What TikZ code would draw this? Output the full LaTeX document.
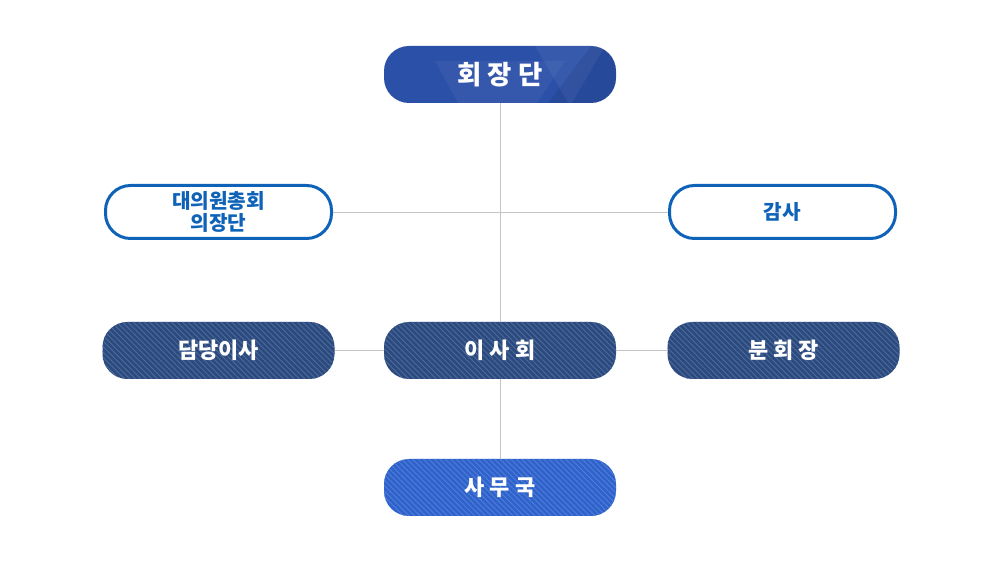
\documentclass[tikz,border=0pt]{standalone}
\usepackage{fontspec}
\setmainfont{Noto Sans CJK KR}
\usepackage{tikz}
\usetikzlibrary{patterns.meta}

\definecolor{topblue}{HTML}{2B50A8}
\definecolor{navy}{HTML}{2A4A80}
\definecolor{officeblue}{HTML}{2E62CC}
\definecolor{linegray}{HTML}{C4C4C4}
\definecolor{edgeblue}{HTML}{0E63B8}

\tikzset{
  pill/.style={rounded corners=0.5cm, minimum width=4.64cm, minimum height=1.14cm,
    inner sep=0pt, text=white, font=\bfseries\fontsize{12.5}{14}\selectfont},
  hatched/.style={pill, fill=#1,
    postaction={pattern={Lines[angle=-45, distance=2.2pt, line width=0.5pt]}, pattern color=white!18!#1}},
  outlined/.style={pill, draw=edgeblue, line width=0.06cm, fill=white, text=edgeblue,
    minimum width=4.52cm, minimum height=1.06cm, align=center,
    font=\bfseries\fontsize{11.5}{13}\selectfont},
  link/.style={draw=linegray, line width=0.5pt}
}

\begin{document}
\begin{tikzpicture}
  \useasboundingbox (0,0) rectangle (20,11.32);
  % top box with light triangles
  \node[pill, fill=topblue, font=\bfseries\fontsize{15}{17}\selectfont,
    path picture={
      \fill[sharp corners, white, opacity=0.05] (path picture bounding box.north) ++(-1.3,-0.3) -- ++(2.6,0) -- ++(-0.6,-0.9) -- ++(-1.5,0) -- cycle;
      \fill[sharp corners, white, opacity=0.06] (path picture bounding box.north) ++(0.7,0) -- ++(1.4,0) -- ++(-0.7,-1.2) -- cycle;
      \fill[sharp corners, black, opacity=0.08] (path picture bounding box.north east) ++(-0.5,0) -- ++(0.5,0) -- ++(0,-1.2) -- ++(-1.4,0) -- cycle;
    }] (top) at (10,9.83) {회 장 단};
  \node[outlined] (council) at (4.37,7.08) {대의원총회\\의장단};
  \node[outlined] (audit) at (15.65,7.08) {감사};
  \node[hatched=navy] (director) at (4.37,4.31) {담당이사};
  \node[hatched=navy] (board) at (10,4.31) {이 사 회};
  \node[hatched=navy] (branch) at (15.67,4.31) {분 회 장};
  \node[hatched=officeblue] (office) at (10,1.57) {사 무 국};
  % connectors
  \draw[link] (council.east) -- (audit.west);
  \draw[link] (top.south) -- (board.north);
  \draw[link] (board.south) -- (office.north);
  \draw[link] (director.east) -- (board.west);
  \draw[link] (board.east) -- (branch.west);
\end{tikzpicture}
\end{document}
